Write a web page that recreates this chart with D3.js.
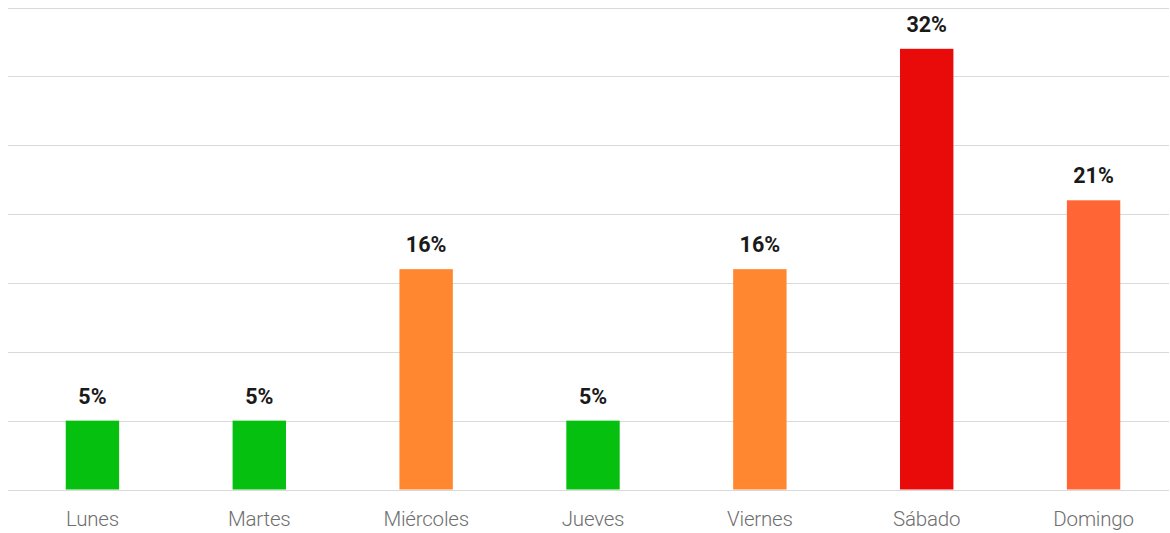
<!DOCTYPE html>
<html>
<head>
<meta charset="utf-8">
<script src="https://cdn.jsdelivr.net/npm/d3@7"></script>
<style>
  html, body { margin: 0; padding: 0; background: #fff; }
  svg { display: block; }
</style>
</head>
<body>
<svg id="chart" width="1170" height="533"></svg>
<script>
// Share of visits by day of the week (%)
const days = ["Lunes", "Martes", "Miércoles", "Jueves", "Viernes", "Sábado", "Domingo"];
const shares = [5, 5, 16, 5, 16, 32, 21];
const barColors = ["#05c00e", "#05c00e", "#ff8730", "#05c00e", "#ff8730", "#e90a0a", "#ff6535"];
const gridTicks = [0, 5, 10, 15, 20, 25, 30, 35];

const svg = d3.select("#chart");
const baseY = 489.5, topY = 7.5;
const gridLeft = 8, gridRight = 1169;

const x = d3.scaleBand()
  .domain(days)
  .range([9, 1177])
  .paddingInner(0.68)
  .paddingOuter(0.34);

const y = d3.scaleLinear()
  .domain([0, 35])
  .range([baseY, topY]);

// horizontal gridlines
svg.append("g")
  .selectAll("line")
  .data(gridTicks)
  .join("line")
  .attr("x1", gridLeft)
  .attr("x2", gridRight)
  .attr("y1", d => Math.round(y(d)) + 0.5)
  .attr("y2", d => Math.round(y(d)) + 0.5)
  .attr("stroke", "#d9d9d9")
  .attr("stroke-width", 1);

// bars
svg.append("g")
  .selectAll("rect")
  .data(days)
  .join("rect")
  .attr("x", d => x(d))
  .attr("width", x.bandwidth())
  .attr("y", (d, i) => y(shares[i]))
  .attr("height", (d, i) => baseY - y(shares[i]))
  .attr("fill", (d, i) => barColors[i]);

// value labels
svg.append("g")
  .selectAll("text")
  .data(days)
  .join("text")
  .attr("x", d => x(d) + x.bandwidth() / 2)
  .attr("y", (d, i) => y(shares[i]) - 17)
  .attr("text-anchor", "middle")
  .attr("font-family", "Roboto, 'Liberation Sans', sans-serif")
  .attr("font-weight", 700)
  .attr("font-size", 21.5)
  .attr("fill", "#1a1a1a")
  .text((d, i) => shares[i] + "%");

// category axis labels
const xAxis = d3.axisBottom(x).tickSize(0).tickPadding(0);
const gx = svg.append("g")
  .attr("transform", `translate(0,${baseY})`)
  .call(xAxis);
gx.select(".domain").remove();
gx.selectAll("text")
  .attr("y", 36)
  .attr("dy", 0)
  .attr("font-family", "Roboto, 'Liberation Sans', sans-serif")
  .attr("font-weight", 300)
  .attr("font-size", 20.5)
  .attr("letter-spacing", -0.2)
  .attr("fill", "#6e6e6e");
</script>
</body>
</html>
